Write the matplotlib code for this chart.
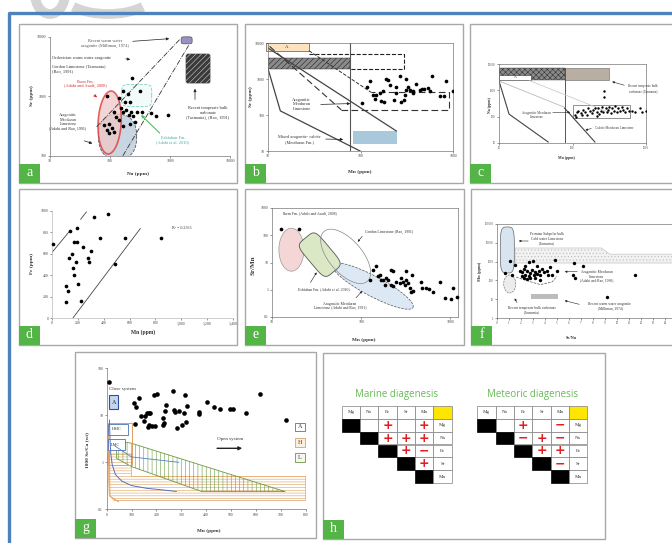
import numpy as np
import matplotlib
matplotlib.use('agg')
import matplotlib.pyplot as plt
from matplotlib.patches import Rectangle, FancyArrowPatch, Arc
from matplotlib.lines import Line2D
from matplotlib.ticker import FixedLocator, FuncFormatter
from matplotlib.transforms import IdentityTransform

W, H = 672, 543

# panel a : Na (ppm) vs Sr (ppm)
na_a = [237, 90, 163, 199, 318, 143, 175, 213, 153, 186, 163, 228, 278, 208, 243, 125,
        143, 117, 345, 490, 575, 920, 213, 163, 110, 90, 98, 117, 79, 98, 260]
sr_a = [2080, 1010, 1260, 1120, 1230, 930, 815, 800, 630, 590, 540, 555, 540, 490, 475, 460,
        400, 540, 540, 520, 475, 490, 340, 325, 290, 270, 240, 250, 330, 340, 375]

# panel b : Mn (ppm) vs Sr (ppm)
mn_b = [128, 118, 105, 136, 148, 161, 175, 167, 181, 142, 187, 198, 210, 240, 244, 229, 265,
        276, 292, 300, 312, 325, 308, 345, 365, 370, 400, 440, 465, 490, 535, 565, 595, 715,
        790, 830, 1000]
sr_b = [855, 595, 215, 365, 365, 405, 455, 250, 237, 283, 1000, 950, 660, 420, 585, 265, 1180,
        225, 260, 365, 480, 610, 1000, 500, 405, 470, 720, 490, 525, 515, 560, 470, 1180, 345,
        330, 855, 470]

# panel c : Mn (ppm) vs Na (ppm)
mn_c = [108, 114, 120, 129, 138, 148, 156, 164, 173, 183, 192, 203, 213, 225, 232, 243, 250,
        264, 272, 270, 283, 293, 308, 318, 331, 343, 362, 381, 400, 420, 443, 469, 493, 521,
        549, 580, 640, 710, 838, 882, 1000, 112, 133, 213]
na_c = [118, 148, 167, 137, 181, 148, 118, 211, 158, 137, 181, 222, 148, 211, 125, 167, 243,
        148, 953, 580, 211, 148, 181, 243, 137, 211, 167, 250, 148, 211, 167, 243, 181, 148,
        211, 167, 158, 148, 211, 148, 167, 101, 118, 110]

# panel d : Mn (ppm) vs Fe (ppm)
mn_d = [8, 137, 196, 322, 433, 170, 193, 240, 304, 374, 562, 846, 490, 157, 131, 183, 162,
        170, 111, 124, 111, 204, 227, 281, 286]
fe_d = [687, 814, 842, 947, 969, 712, 712, 659, 625, 743, 749, 749, 502, 594, 557, 526, 471,
        402, 303, 257, 146, 316, 155, 563, 526]
r2_text = 'R² = 0.2363'

# panel e : Mn (ppm) vs Sr/Mn
mn_e = [12.7, 20, 136, 148, 125, 154, 161, 168, 175, 191, 200, 183, 218, 227, 218, 227, 247,
        270, 282, 294, 308, 315, 322, 336, 351, 365, 381, 373, 470, 483, 536, 576, 636, 760,
        867, 1020, 1070, 1190]
srmn_e = [174, 174, 5.5, 7.2, 2.2, 3.1, 3.6, 2.2, 2.3, 2.7, 2.3, 1.5, 1.5, 1.4, 5.5, 5.0, 1.9,
          1.8, 2.7, 1.9, 1.5, 4.8, 2.3, 1.8, 1.2, 0.83, 0.87, 3.6, 1.9, 1.2, 1.2, 1.1, 0.83,
          1.9, 0.50, 0.44, 1.2, 0.52]

# panel f : Sr/Na vs Mn (ppm)
srna_f = [1.94, 2.08, 2.22, 2.36, 2.5, 2.64, 2.78, 2.92, 3.06, 3.19, 3.33, 3.47, 3.61, 3.75,
          2.08, 2.22, 2.5, 2.78, 3.19, 3.61, 3.89, 4.17, 4.39, 5.0, 4.58, 4.86, 6.39, 6.33,
          6.53, 7.17, 11.5, 9.17, 2.64, 3.0, 2.36, 3.33, 4.22, 1.11, 1.25, 0.69, 1.53]
mn_f = [330, 280, 420, 200, 300, 165, 250, 370, 200, 280, 220, 330, 185, 420, 165, 135, 125,
        135, 135, 110, 280, 330, 500, 300, 185, 1270, 850, 200, 135, 610, 200, 12.6, 950,
        1030, 560, 560, 200, 1110, 200, 250, 690]

# panel g : Mn (ppm) vs 1000 Sr/Ca
mn_g = [9, 111, 118, 130, 137, 148, 154, 161, 170, 176, 170, 168, 181, 191, 201, 195, 227,
        225, 232, 238, 235, 268, 270, 275, 289, 282, 302, 309, 315, 322, 319, 372, 372, 403,
        430, 456, 497, 509, 560, 615, 721, 114]
srca_g = [52, 18, 15.3, 23, 9.7, 7.4, 9.7, 11, 11.2, 11, 6.2, 5.6, 6, 27, 29, 6, 8.6, 6.3,
          6.8, 16.6, 12.6, 33.5, 13, 12, 12.6, 5.3, 6.2, 11, 27, 15.5, 7.3, 12, 10.7, 18.9,
          15, 13.7, 13.7, 13.7, 11, 28, 8, 6.6]
# closed-system (aragonite) curve in panel g
curve_g_x = [11, 13, 16, 22, 35, 60, 100, 160, 220, 280]
curve_g_y = [7.9, 3.5, 1.6, 0.9, 0.55, 0.40, 0.32, 0.28, 0.26, 0.24]

# panel h : correlation tables
elements = ['Mg', 'Na', 'Fe', 'Sr', 'Mn']
marine = [['', '+', '', '+'], ['+', '+', '+'], ['+', '−'], ['+'], []]
meteoric = [['', '+', '', '−'], ['−', '+', '−'], ['+', '+'], ['−'], []]

plt.rcParams['font.family'] = ['Liberation Serif', 'DejaVu Serif']
plt.rcParams['hatch.linewidth'] = 0.4

fig = plt.figure(figsize=(W / 100, H / 100), dpi=100)
GREEN = '#55b447'
INK = '#333333'


def px_axes(x0, y0, x1, y1):
    return fig.add_axes([x0 / W, 1 - y1 / H, (x1 - x0) / W, (y1 - y0) / H])


def ftext(x, y, s, **kw):
    kw.setdefault('fontsize', 3.2)
    kw.setdefault('ha', 'center')
    kw.setdefault('va', 'center')
    kw.setdefault('color', INK)
    fig.text(x / W, 1 - y / H, s, **kw)


def farrow(x0, y0, x1, y1, color='#222222', lw=0.5, ms=4):
    fig.add_artist(FancyArrowPatch((x0 / W, 1 - y0 / H), (x1 / W, 1 - y1 / H),
                                   transform=fig.transFigure, arrowstyle='-|>',
                                   mutation_scale=ms, color=color, lw=lw))


def panel(x0, y0, x1, y1, letter):
    fig.add_artist(Rectangle((x0 / W, 1 - y1 / H), (x1 - x0) / W, (y1 - y0) / H,
                             transform=fig.transFigure, fill=False, ec='#a8a8a8', lw=1.0))
    fig.add_artist(Rectangle((x0 / W, 1 - y1 / H), 21 / W, 19 / H,
                             transform=fig.transFigure, fc=GREEN, ec='none'))
    fig.text((x0 + 10.5) / W, 1 - (y1 - 10) / H, letter, color='white', fontsize=10,
             ha='center', va='center')


logfmt = FuncFormatter(lambda v, p: '%d' % v if v >= 1 else '%g' % v)


def setup(ax, xt, yt, xlog=True, ylog=True, frame=True, xfmt=None):
    if xlog:
        ax.set_xscale('log')
    if ylog:
        ax.set_yscale('log')
    ax.set_xlim(xt[0], xt[-1])
    ax.set_ylim(yt[0], yt[-1])
    ax.xaxis.set_major_locator(FixedLocator(xt))
    ax.yaxis.set_major_locator(FixedLocator(yt))
    ax.minorticks_off()
    ax.xaxis.set_major_formatter(xfmt or logfmt)
    ax.yaxis.set_major_formatter(logfmt)
    ax.tick_params(labelsize=2.8, length=1.5, width=0.4, pad=1, colors='#444444')
    for sp in ax.spines.values():
        sp.set_linewidth(0.5)
        sp.set_color('#777777')
    if not frame:
        ax.spines['top'].set_visible(False)
        ax.spines['right'].set_visible(False)
    ax.patch.set_alpha(0)
    ax.set_autoscale_on(False)


def blob(ax, cx, cy, w, h, ang=0, n=2, **kw):
    # shape centred on a data point, sized in pixels
    t = np.linspace(0, 2 * np.pi, 240)
    c, s = np.cos(t), np.sin(t)
    u = w / 2 * np.sign(c) * np.abs(c) ** (2 / n)
    v = h / 2 * np.sign(s) * np.abs(s) ** (2 / n)
    a = np.radians(ang)
    du = u * np.cos(a) - v * np.sin(a)
    dv = u * np.sin(a) + v * np.cos(a)
    px, py = ax.transData.transform((cx, cy))
    pts = ax.transData.inverted().transform(np.column_stack([px + du, py + dv]))
    return ax.fill(pts[:, 0], pts[:, 1], **kw)


def rect(ax, x0, x1, y0, y1, **kw):
    ax.add_patch(Rectangle((x0, y0), x1 - x0, y1 - y0, **kw))


# faint watermark at the top left and the outer blue frame
for cx, wd, t1, t2 in [(50, 30, 180, 360), (108, 90, 200, 340)]:
    fig.add_artist(Arc((cx, H + 6), wd, 40, theta1=t1, theta2=t2,
                       transform=IdentityTransform(), color='#d4d4d4', lw=7))
fig.add_artist(Line2D([9 / W, 9 / W, 1], [0, 1 - 13 / H, 1 - 13 / H],
                      transform=fig.transFigure, color='#4f81bd', lw=2.4))

# ---------------- panel a
ax = px_axes(50, 37, 230, 156)
setup(ax, [10, 100, 1000, 10000], [100, 1000, 10000], frame=False)
blob(ax, 134, 211, 38, 45, n=2.4, fc='#c9d6e2', ec='#555555', ls='--', lw=0.6, zorder=1)
blob(ax, 98.6, 366, 23, 63, ang=-3, fc='#f0c8c8', ec='#e03030', lw=1.2, alpha=0.75, zorder=2)
blob(ax, 279, 1040, 30, 22, n=6, fc='#f2fbf9', ec='#7fd0c0', ls='--', lw=0.6, zorder=1)
blob(ax, 1893, 8790, 11, 7, n=5, fc='#9a90c2', ec='#555555', lw=0.5, zorder=2, clip_on=False)
blob(ax, 2940, 2945, 25, 30, n=12, fc='#3a3a3a', ec='#d0d0d0', hatch='//////', lw=0.4,
     zorder=2)
ax.plot([60, 1460], [310, 9140], ls='-.', color='#333333', lw=0.6)
ax.plot([164, 2050], [101, 7250], ls='-.', color='#333333', lw=0.6)
ax.scatter(na_a, sr_a, s=7, color='black', zorder=4, lw=0)
ftext(105, 43.5, 'Recent warm water\naragonite (Milliman, 1974)', color='#555555')
ftext(52, 58.3, 'Ordovician warm water aragonite', ha='left')
ftext(52, 69, 'Gordon Limestone (Tasmania)\n(Rao, 1991)', ha='left', linespacing=1.4)
ftext(85, 84, 'Ihem Fm.\n(Adabi and Asadi, 2008)', color='#d03030')
ftext(68, 122, 'Aragonitic\nMeoduran\nLimestone\n(Adabi and Rao, 1991)', fontsize=3.0)
ftext(173, 140, 'Eshfahan Fm.\n(Adabi et al. 2010)', color='#40b0a0')
ftext(208, 113, 'Recent temperate bulk\ncarbonate\n(Tasmania), (Rao, 1991)')
farrow(130, 41.5, 172, 38.5)
farrow(123, 58.3, 133, 60)
farrow(91.7, 93.3, 99.3, 99, color='#d03030')
farrow(81.7, 140, 95, 144.3)
farrow(161.7, 135, 139, 113, color='#50c060', lw=0.8)
farrow(195, 102.3, 195, 86)
ftext(32, 96, 'Sr (ppm)', rotation=90, fontsize=3.8, fontweight='bold')
ftext(138, 174.5, 'Na (ppm)', fontsize=3.8, fontweight='bold')
panel(19, 24, 237, 183, 'a')

# ---------------- panel b
ax = px_axes(268, 43, 453, 151)
setup(ax, [10, 100, 1000], [10, 100, 1000, 10000])
rect(ax, 9.6, 27.7, 6110, 10000, fc='#fbe3c0', ec='#555555', lw=0.5, clip_on=False)
rect(ax, 10, 77.6, 1888, 3820, fc='#8a8a8a', ec='#222222', hatch='//////', lw=0.3)
ax.plot([77.6, 77.6], [10, 10000], color='#555555', lw=0.8)
ax.plot([27.7, 293, 293, 77.6], [4940, 4940, 1930, 1930], ls='--', color='#222222', lw=0.8)
ax.plot([62, 906, 906, 131], [139, 139, 423, 423], ls=(0, (6, 3)), color='#333333', lw=0.8)
ax.plot([10.4, 62], [8070, 139], ls=(0, (6, 3)), color='#333333', lw=0.8)
ax.plot([27.7, 131], [6110, 423], ls='--', color='#333333', lw=0.7)
ax.plot([10, 13.6, 99], [1930, 130, 10], color='#444444', lw=0.9)
ax.plot([10, 244], [7260, 36], color='#444444', lw=0.9)
rect(ax, 83, 248, 15.4, 36, fc='#a9c8dc', ec='none')
ax.scatter(mn_b, sr_b, s=7, color='black', zorder=4, lw=0)
ftext(286.7, 47, 'A', fontsize=3.5)
ftext(301.7, 104.3, 'Aragonitic\nMeoduran\nLimestone')
ftext(299.3, 139.3, 'Mixed aragonite- calcite\n(Meoduran Fm.)')
farrow(318, 104.5, 353, 103.5)
farrow(323, 139, 346, 139.5)
ftext(251, 96.7, 'Sr (ppm)', rotation=90, fontsize=3.8, fontweight='bold')
ftext(360, 171.7, 'Mn (ppm)', fontsize=3.8, fontweight='bold')
panel(245, 24, 463, 183, 'b')

# ---------------- panel c
ax = px_axes(499, 64, 646, 143)
setup(ax, [10, 100, 1000], [10, 100, 1000, 10000])
ax.tick_params(labelsize=2.2)
rect(ax, 10, 79, 2490, 6860, fc='#8a8a8a', ec='#333333', hatch='xxxxxx', lw=0.3)
rect(ax, 79, 310, 2490, 6860, fc='#b8aea2', ec='#666666', lw=0.4)
rect(ax, 10, 27, 2490, 3840, fc='white', ec='#333333', lw=0.4)
ax.plot([79, 79], [10, 6860], color='#555555', lw=0.7)
ax.plot([10, 79], [2270, 223], color='#bbbbbb', lw=0.6)
ax.plot([26, 308], [2340, 148], color='#cccccc', lw=0.6)
ax.plot([10, 13.7, 46.7], [2270, 125, 10.9], color='#444444', lw=0.8)
ax.plot([78, 202], [210, 10.9], color='#444444', lw=0.8)
rect(ax, 103, 610, 88, 281, fill=False, ec='#666666', lw=0.5)
ax.scatter(mn_c, na_c, s=3, color='black', zorder=4, lw=0)
ftext(515, 77.3, 'A', fontsize=2.8)
ftext(643, 88.3, 'Recent temperate bulk\ncarbonate (Tasmania)', fontsize=2.3)
ftext(536.7, 115, 'Aragonitic Meoduran\nLimestone', fontsize=2.3)
ftext(595, 127.7, 'Calcite Meoduran Limestone', fontsize=2.3, ha='left')
farrow(627, 86, 609.5, 81, lw=0.4, ms=3)
farrow(550, 112.3, 573, 112.3, lw=0.4, ms=3)
farrow(594, 127.7, 582.7, 131, lw=0.4, ms=3)
ftext(490, 105, 'Na (ppm)', rotation=90, fontsize=2.8, fontweight='bold')
ftext(566.7, 158.5, 'Mn (ppm)', fontsize=2.8, fontweight='bold')
panel(470, 24, 680, 183, 'c')

# ---------------- panel d
ax = px_axes(52, 211, 233, 318)
setup(ax, list(range(0, 1401, 200)), list(range(0, 1001, 200)), xlog=False, ylog=False,
      frame=False, xfmt=FuncFormatter(lambda v, p: f'{v:,.0f}'))
ax.yaxis.set_major_formatter(FuncFormatter(lambda v, p: '%d' % v))
for sp in ax.spines.values():
    sp.set_color('#bbbbbb')
ax.plot([0, 142], [613, 820], color='#444444', lw=0.6)
ax.plot([222, 266], [923, 991], color='#444444', lw=0.6)
ax.plot([162, 683], [0, 836], color='#444444', lw=0.6)
ax.scatter(mn_d, fe_d, s=7, color='black', zorder=4, lw=0, clip_on=False)
ftext(172, 228.3, r2_text, fontsize=3.0, ha='left')
ftext(32, 263, 'Fe (ppm)', rotation=90, fontsize=3.8, fontweight='bold')
ftext(142.7, 332, 'Mn (ppm)', fontsize=4.0, fontweight='bold')
panel(19, 189, 237, 345, 'd')

# ---------------- panel e
ax = px_axes(272, 208, 458, 317)
setup(ax, [10, 100, 1000], [0.1, 1, 10, 100, 1000])
ax.set_xlim(10, 1219)
blob(ax, 16.5, 29.5, 25, 43, fc='#f4d6d6', ec='#999999', lw=0.5, zorder=1)
blob(ax, 34.3, 19.4, 44, 24, ang=-50, n=5, fc='#dbe8c6', ec='#555555', lw=0.6, zorder=2)
blob(ax, 67, 16.8, 66, 33, ang=-49, fill=False, ec='#888888', lw=0.5, zorder=2)
blob(ax, 135, 1.36, 91, 20, ang=-28, fc='#dde8f5', ec='#555555', ls='--', lw=0.5, zorder=1)
ax.scatter(mn_e, srmn_e, s=7, color='black', zorder=4, lw=0, clip_on=False)
ftext(283.3, 214, 'Ihem Fm. (Adabi and Asadi, 2008)', ha='left', fontsize=2.8)
ftext(365, 232.3, 'Gordon Limestone (Rao, 1991)', ha='left', fontsize=2.8)
ftext(298.3, 289.3, 'Eshfahan Fm. (Adabi et al. 2010)', ha='left', fontsize=2.8)
ftext(340, 306, 'Aragonitic Meoduran\nLimestone (Adabi and Rao, 1991)', fontsize=2.8)
farrow(364, 234, 356, 244, lw=0.4, ms=3)
farrow(309, 285, 318, 270, lw=0.4, ms=3)
farrow(354, 300, 364, 289, lw=0.4, ms=3)
ftext(253.3, 265, 'Sr/Mn', rotation=90, fontsize=5, fontweight='bold')
ftext(363.3, 340, 'Mn (ppm)', fontsize=3.8, fontweight='bold')
panel(245, 189, 464, 345, 'e')

# ---------------- panel f
ax = px_axes(497, 224, 677, 318)
setup(ax, list(range(0, 15)), [1, 10, 100, 1000, 10000, 100000], xlog=False,
      xfmt=FuncFormatter(lambda v, p: '%d' % v))
ax.set_xlim(0, 15)
ax.tick_params(labelsize=2.2)
band_x = [1.5, 8.7, 9.4, 15]
ax.fill_between(band_x, [840] * 4, [5300, 5300, 2500, 2500], fc='#f2f2f2', ec='#bbbbbb',
                hatch='.....', lw=0.4, zorder=1)
blob(ax, 0.86, 4140, 14, 46, n=4, fc='#d8e4f0', ec='#666666', lw=0.5, zorder=2)
blob(ax, 1.06, 64.6, 12, 18, fc='#ececec', ec='#666666', ls='--', lw=0.4, zorder=2)
ax.plot([1.6, 2.86, 3.61, 4.58, 5.0], [150, 82, 60, 82, 166], ls='--', color='#555555',
        lw=0.5)
rect(ax, 2.83, 5.06, 10.7, 20, fc='#bcbcbc', ec='none')
ax.scatter(srna_f, mn_f, s=6, color='black', zorder=4, lw=0)
ftext(546.7, 238.5, 'Permian Subpolar bulk\nCold water Limestone\n(Tasmania)', fontsize=2.6)
ftext(597, 276.7, 'Aragonitic Meoduran\nLimestone\n(Adabi and Rao, 1990)', fontsize=2.6)
ftext(531.7, 310, 'Recent temperate bulk carbonate\n(Tasmania)', fontsize=2.6)
ftext(610, 306.7, 'Recent warm water aragonite\n(Milliman, 1974)', fontsize=2.6)
farrow(531, 241, 516, 241, lw=0.4, ms=3)
farrow(580, 271.7, 562, 271.7, lw=0.4, ms=3)
farrow(518.3, 305, 513.3, 296, lw=0.4, ms=3)
farrow(582, 305, 562, 300, lw=0.4, ms=3)
ftext(480, 271.7, 'Mn (ppm)', rotation=90, fontsize=3.2, fontweight='bold')
ftext(571.7, 337.7, 'Sr/Na', fontsize=3.2, fontweight='bold')
panel(471, 189, 680, 345, 'f')

# ---------------- panel g
ax = px_axes(106.7, 368.3, 305.7, 509.3)
setup(ax, list(range(0, 801, 100)), [0.1, 1, 10, 100], xlog=False, frame=False,
      xfmt=FuncFormatter(lambda v, p: '%d' % v))
ax.fill([5, 100, 100, 800, 800, 30, 10, 8], [1.5, 1.5, 0.5, 0.5, 0.155, 0.155, 0.2, 0.4],
        fc='none', ec='#e0a060', hatch='------', lw=0.5, zorder=1)
ax.fill([40, 100, 718, 383, 100, 40], [2.9, 2.54, 0.238, 0.238, 0.81, 1.2], fc='none',
        ec='#6a9a40', hatch='||||', lw=0.6, zorder=2)
rect(ax, 4, 100, 0.88, 6.9, fill=False, ec='#e0a060', lw=0.7, zorder=3)
rect(ax, 4, 87, 3.8, 6.5, fc='white', ec='#5070b0', lw=0.6, zorder=3)
rect(ax, 4, 74, 1.83, 3.1, fc='white', ec='#5070b0', lw=0.6, zorder=3)
rect(ax, 9, 44, 13.4, 27, fc='#c5d5ef', ec='#3050a0', lw=0.8, zorder=3)
ax.plot(curve_g_x, curve_g_y, color='#5070c0', lw=0.7, zorder=3)
ax.plot([34, 100, 290], [2.2, 1.3, 1.0], color='#5080c0', lw=0.6, zorder=3)
ax.plot([11, 13, 47], [1.8, 0.19, 0.145], color='#e0a060', lw=0.7, zorder=3)
ax.scatter(mn_g, srca_g, s=11, color='black', zorder=5, lw=0, clip_on=False)
ftext(109.3, 389, 'Close system', ha='left', fontsize=3.6)
ftext(114, 402.5, 'A', fontsize=4.5)
ftext(116.7, 429.3, 'HMC', fontsize=3.2)
ftext(115, 445, 'LMC', fontsize=3.2)
ftext(230, 439.3, 'Open system', fontsize=3.6)
farrow(214.3, 448.3, 245, 448.3, lw=1.0, ms=5)
for lab, y, ec, fc in [('A', 426.7, '#5070b0', 'white'), ('H', 442.5, '#e0a060', '#fbefe0'),
                       ('L', 457.5, '#6a9a40', '#f3f7ee')]:
    fig.add_artist(Rectangle((295 / W, 1 - (y + 4.2) / H), 10 / W, 8.4 / H,
                             transform=fig.transFigure, fc=fc, ec=ec, lw=0.6))
    ftext(300, y, lab, fontsize=4.5, color='#404040')
ftext(86.7, 450, '1000 Sr/Ca (wt)', rotation=90, fontsize=3.8, fontweight='bold')
ftext(208.3, 531, 'Mn (ppm)', fontsize=3.8, fontweight='bold')
panel(75, 352, 316, 538, 'g')

# ---------------- panel h


def table(x0, title, signs):
    ax = px_axes(x0, 406, x0 + 110, 483)
    ax.set_xlim(0, 6)
    ax.set_ylim(6, 0)
    ax.axis('off')
    cell = dict(ec='#808080', lw=0.5, clip_on=False)
    for j in range(6):
        ax.add_patch(Rectangle((j, 0), 1, 1, fc='#ffe600' if j == 5 else 'white', **cell))
        if j < 5:
            ax.text(j + 0.5, 0.5, elements[j], ha='center', va='center', fontsize=3.6,
                    color=INK)
    for i in range(5):
        r = i + 1
        ax.add_patch(Rectangle((i, r), 1, 1, fc='black', ec='black', lw=0.5, clip_on=False))
        for k, sgn in enumerate(signs[i]):
            j = i + 1 + k
            ax.add_patch(Rectangle((j, r), 1, 1, fc='white', **cell))
            if sgn:
                ax.text(j + 0.5, r + 0.5, sgn, ha='center', va='center', fontsize=9,
                        fontweight='bold', color='#e02020', family='DejaVu Sans')
        ax.add_patch(Rectangle((5, r), 1, 1, fc='white', **cell))
        ax.text(5.5, r + 0.5, elements[i], ha='center', va='center', fontsize=3.6,
                color=INK)
    ftext(x0 + 55, 394, title, fontsize=7, color='#66bb55', family='Open Sans')


table(341.7, 'Marine diagenesis', marine)
table(477.3, 'Meteoric diagenesis', meteoric)
panel(323, 353, 605, 539, 'h')

fig.savefig('out.png', dpi=100)
